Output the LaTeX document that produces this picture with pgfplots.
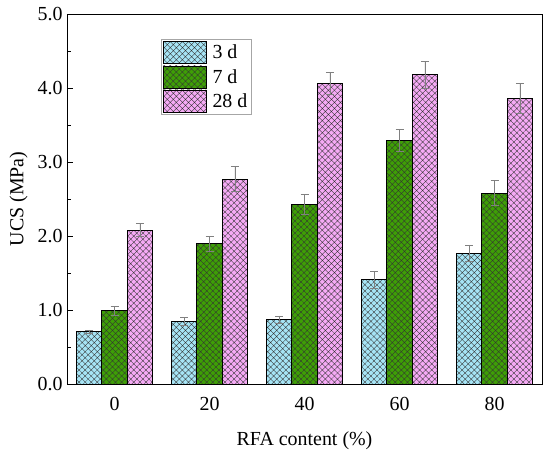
\documentclass[border=0pt]{standalone}
\usepackage{pgfplots}
\pgfplotsset{compat=1.18}
\usepackage{fontspec}
\setmainfont{Liberation Serif}
\usetikzlibrary{patterns.meta}
\definecolor{cblue}{RGB}{166,228,245}
\definecolor{cgreen}{RGB}{62,158,6}
\definecolor{cpink}{RGB}{245,170,245}
\begin{document}
\begin{tikzpicture}
\begin{axis}[
  scale only axis, width=475bp, height=370bp,
  xmin=-0.5, xmax=4.5, ymin=0, ymax=5,
  xtick={0,1,2,3,4}, xticklabels={0,20,40,60,80},
  ytick={0,1,2,3,4,5},
  minor ytick={0.5,1.5,2.5,3.5,4.5},
  yticklabel style={xshift=-1bp, /pgf/number format/.cd,fixed,fixed zerofill,precision=1},
  /pgf/number format/assume math mode=true,
  tick label style={font=\fontsize{20}{23}\selectfont},
  xticklabel style={yshift=-4bp},
  label style={font=\fontsize{20}{23}\selectfont},
  xlabel={RFA content (\%)}, ylabel={UCS (MPa)},
  xlabel style={yshift=-14bp},
  ylabel style={yshift=3bp},
  xtick style={draw=none},
  ytick pos=left, tick align=inside,
  major tick length=6bp, minor tick length=4bp,
  axis line style={line width=1bp}, tick style={line width=0.8bp, black},
  ybar, bar width=0.268,
  legend style={at={(rel axis cs:0.197,0.932)}, anchor=north west, draw=gray!70, line width=0.6bp,
    font=\fontsize{20}{23}\selectfont, inner sep=2bp, row sep=1.5bp},
  legend cell align=left,
  legend image code/.code={\draw[#1,draw=black,line width=0.6bp] (0bp,-11bp) rectangle (43bp,11bp); \path (47bp,0bp);},
  error bars/y dir=both, error bars/y explicit,
  error bars/error bar style={gray, line width=0.6bp},
  error bars/error mark options={rotate=90, mark size=4bp, gray, line width=0.6bp},
]
\addplot[draw=black, line width=0.7bp, fill=cblue, bar shift=-0.268,
  postaction={pattern={Hatch[angle=45,distance=4.3bp,line width=0.35bp]}, pattern color=black!80}]
  coordinates {(0,0.71) +- (0,0.02) (1,0.85) +- (0,0.05) (2,0.87) +- (0,0.05) (3,1.41) +- (0,0.11) (4,1.77) +- (0,0.11)};
\addplot[draw=black, line width=0.7bp, fill=cgreen, bar shift=0,
  postaction={pattern={Hatch[angle=45,distance=4.3bp,line width=0.35bp]}, pattern color=black!80}]
  coordinates {(0,0.99) +- (0,0.06) (1,1.90) +- (0,0.10) (2,2.43) +- (0,0.13) (3,3.29) +- (0,0.15) (4,2.58) +- (0,0.17)};
\addplot[draw=black, line width=0.7bp, fill=cpink, bar shift=0.268,
  postaction={pattern={Hatch[angle=45,distance=4.3bp,line width=0.35bp]}, pattern color=black!80}]
  coordinates {(0,2.08) +- (0,0.09) (1,2.77) +- (0,0.17) (2,4.06) +- (0,0.15) (3,4.18) +- (0,0.18) (4,3.86) +- (0,0.20)};
\legend{3 d, 7 d, 28 d\hspace{5bp}}
\coordinate (ll) at (rel axis cs:0,0);
\coordinate (ur) at (rel axis cs:1,1);
\end{axis}
\pgfresetboundingbox
\path (ll) +(-67bp,-65bp) (ur) +(8bp,14bp);
\end{tikzpicture}
\end{document}
